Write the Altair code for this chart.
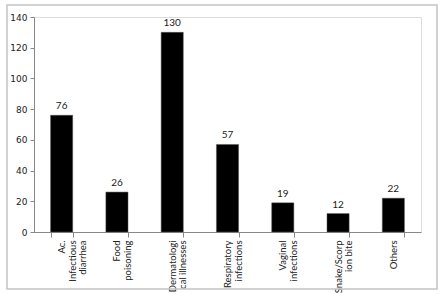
import altair as alt
import pandas as pd

categories = ["Ac.\nInfectious\ndiarrhea", "Food\npoisoning", "Dermatologi\ncal illnesses",
              "Respiratory\ninfections", "Vaginal\ninfections", "Snake/Scorp\nion bite", "Others"]
values = [76, 26, 130, 57, 19, 12, 22]

df = pd.DataFrame({"cat": categories, "val": values})

x = alt.X("cat:N", sort=None, title=None,
          scale=alt.Scale(paddingInner=0.6, paddingOuter=0.3),
          axis=alt.Axis(labelAngle=-90, labelExpr="split(datum.label, '\\n')",
                        labelFont="Lato", labelFontSize=9.5, labelColor="#222",
                        labelLineHeight=10.5, labelPadding=3, tickBand="extent",
                        tickSize=5, domainColor="#888", tickColor="#888", labelLimit=200))
y = alt.Y("val:Q", title=None,
          scale=alt.Scale(domain=[0, 140]),
          axis=alt.Axis(values=list(range(0, 141, 20)), grid=False, labelFont="DejaVu Sans",
                        labelFontSize=9, labelColor="#222", domainColor="#888", tickColor="#888",
                        tickSize=4, labelPadding=3))

base = alt.Chart(df)
bars = base.mark_bar(color="black", stroke="#555", strokeWidth=0.5).encode(x=x, y=y)
text = base.mark_text(dy=-9, font="Lato", fontSize=10, color="#222").encode(
    x=x, y=y, text="val:Q")
fd = pd.DataFrame({"a": [0]})
frame = alt.Chart(fd).mark_rect(filled=False, stroke="#c4c4c4", strokeWidth=1.5).encode(
    x=alt.value(-27), x2=alt.value(403), y=alt.value(-12), y2=alt.value(272))

chart = alt.layer(frame, bars, text).properties(
    width=387, height=215,
    autosize=alt.AutoSizeParams(type="none"),
    padding={"left": 34, "top": 17, "right": 20, "bottom": 62},
).configure_view(stroke=None).configure(background="white")

chart.save("out.html", embed_options={"renderer": "svg", "actions": False})
